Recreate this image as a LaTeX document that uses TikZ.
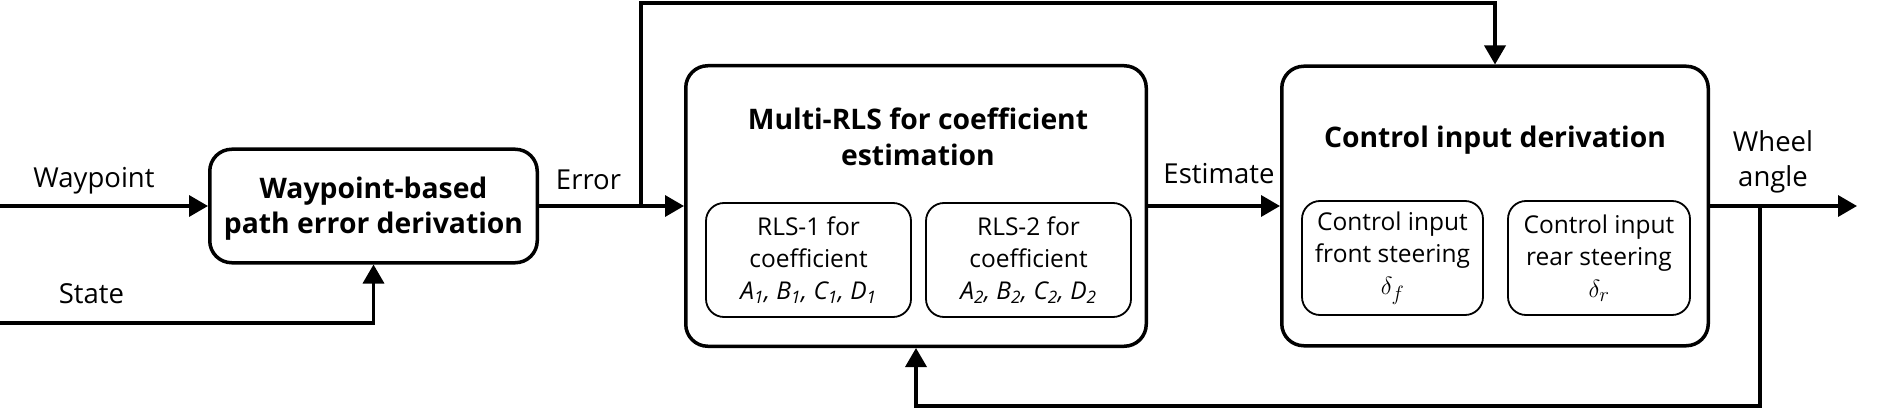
\documentclass[tikz,border=0pt]{standalone}
\usepackage{fontspec}
\setmainfont{Open Sans}
\usetikzlibrary{arrows.meta}
\begin{document}
\begin{tikzpicture}[x=1pt,y=-1pt,
  mainbox/.style={draw, line width=3.5pt, rounded corners=22pt, inner sep=0pt},
  subbox/.style={draw, line width=1.8pt, rounded corners=18pt, inner sep=0pt, align=center, font=\fontsize{24.5}{32}\selectfont},
  lbl/.style={inner sep=0pt, anchor=base, font=\fontsize{27.5}{30}\selectfont},
  ttl/.style={inner sep=0pt, anchor=base, font=\bfseries\fontsize{28.3}{30}\selectfont},
  conn/.style={line width=3.5pt, -{Triangle[length=19pt,width=21pt]}},
]
\fill[white] (0,0) rectangle (1879,409);
\useasboundingbox (0,0) rectangle (1879,409);

% main boxes
\node[mainbox, minimum width=327.5pt, minimum height=113.5pt] (wp) at (373.5,206) {};
\node[mainbox, minimum width=460.5pt, minimum height=280.5pt] (mrls) at (916,206) {};
\node[mainbox, minimum width=426.5pt, minimum height=279.5pt] (ctrl) at (1495,206) {};

% titles
\node[ttl] (wpt1) at (373.5,198) {Waypoint-based};
\node[ttl] (wpt2) at (373.5,233) {path error derivation};
\node[ttl] (mt1) at (918,130) {Multi-RLS for coefficient};
\node[ttl] (mt2) at (918,165) {estimation};
\node[ttl] (ct1) at (1495,147) {Control input derivation};

% inner boxes
\node[subbox, minimum width=205pt, minimum height=114pt] (rls1) at (808.5,260)
  {RLS-1 for\\coefficient\\\textit{A\textsubscript{1}, B\textsubscript{1}, C\textsubscript{1}, D\textsubscript{1}}};
\node[subbox, minimum width=205pt, minimum height=114pt] (rls2) at (1028.5,260)
  {RLS-2 for\\coefficient\\\textit{A\textsubscript{2}, B\textsubscript{2}, C\textsubscript{2}, D\textsubscript{2}}};
\node[subbox, minimum width=181pt, minimum height=114pt] (front) at (1392.5,258)
  {Control input\\front steering\\\fontsize{28}{32}\selectfont$\delta_f$};
\node[subbox, minimum width=182pt, minimum height=114pt] (rear) at (1599,258)
  {Control input\\rear steering\\\fontsize{28}{32}\selectfont$\delta_r$};

% labels
\node[lbl] (lwp) at (94,187) {Waypoint};
\node[lbl] (lst) at (91.5,303) {State};
\node[lbl] (ler) at (588.5,189) {Error};
\node[lbl] (les) at (1219,183) {Estimate};
\node[lbl] (lwh1) at (1773,152) {Wheel};
\node[lbl] (lwh2) at (1773,186) {angle};

% coordinates
\coordinate (win) at (0,206);
\coordinate (sin) at (0,323);
\coordinate (eb) at (641,206);
\coordinate (top) at (641,3);
\coordinate (out) at (1857,206);
\coordinate (fb) at (1760,206);
\coordinate (bot) at (1760,406);

% connectors
\draw[conn] (win) -- (wp.west);
\draw[conn] (sin) -| (wp.south);
\draw[conn] (wp.east) -- (mrls.west);
\draw[conn] (eb) -- (top) -| (ctrl.north);
\draw[conn] (mrls.east) -- (ctrl.west);
\draw[conn] (ctrl.east) -- (out);
\draw[conn] (fb) -- (bot) -| (mrls.south);
\end{tikzpicture}
\end{document}
